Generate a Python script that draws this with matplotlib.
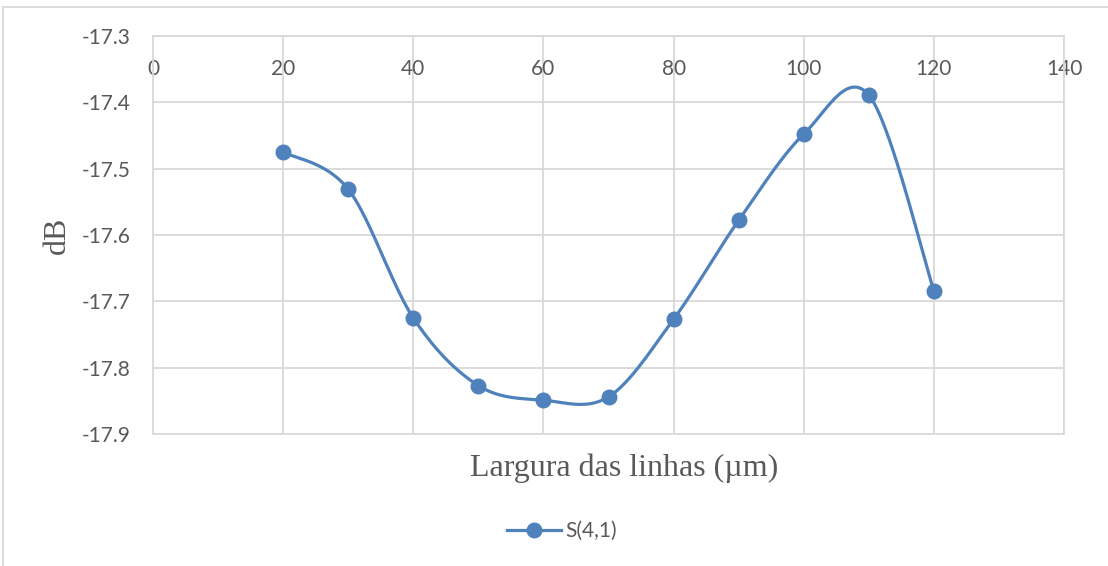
import numpy as np
import matplotlib
matplotlib.use("Agg")
import matplotlib.pyplot as plt
from matplotlib.patches import Rectangle
from matplotlib.lines import Line2D

# Line width (µm) vs. S(4,1) in dB
largura = [20, 30, 40, 50, 60, 70, 80, 90, 100, 110, 120]
s41_db = [-17.475, -17.531, -17.725, -17.827, -17.849, -17.844,
          -17.727, -17.578, -17.448, -17.389, -17.684]

x_ticks = [0, 20, 40, 60, 80, 100, 120, 140]
y_ticks = [-17.3, -17.4, -17.5, -17.6, -17.7, -17.8, -17.9]
serie = "S(4,1)"

azul = "#4F81BD"
cinza_grade = "#D9D9D9"
cinza_texto = "#595959"


def curva_suave(x, y, n=60):
    """Piecewise cubic Bezier through the points (Catmull-Rom tangents)."""
    x = np.asarray(x, float)
    y = np.asarray(y, float)
    px = np.concatenate([[x[0]], x, [x[-1]]])
    py = np.concatenate([[y[0]], y, [y[-1]]])
    t = np.linspace(0, 1, n)[:, None]
    xs, ys = [], []
    for i in range(1, len(px) - 2):
        p0 = np.array([px[i], py[i]])
        p3 = np.array([px[i + 1], py[i + 1]])
        p1 = p0 + (np.array([px[i + 1], py[i + 1]]) - np.array([px[i - 1], py[i - 1]])) / 6
        p2 = p3 - (np.array([px[i + 2], py[i + 2]]) - np.array([px[i], py[i]])) / 6
        b = ((1 - t) ** 3) * p0 + 3 * ((1 - t) ** 2) * t * p1 + 3 * (1 - t) * t ** 2 * p2 + t ** 3 * p3
        xs.append(b[:, 0])
        ys.append(b[:, 1])
    return np.concatenate(xs), np.concatenate(ys)


fig = plt.figure(figsize=(11.08, 5.66), dpi=100)
fig.patch.set_facecolor("white")

# chart frame
fig.patches.append(Rectangle((3.5 / 1108, -0.1), 1.2, 1.1 - 6.5 / 566,
                             transform=fig.transFigure, fill=False,
                             edgecolor=cinza_grade, linewidth=1.3, zorder=0))

ax = fig.add_axes([153 / 1108, 1 - 434 / 566, (1064 - 153) / 1108, (434 - 36) / 566])
ax.set_xlim(0, 140)
ax.set_ylim(-17.9, -17.3)

ax.set_xticks(x_ticks)
ax.set_yticks(y_ticks)
ax.set_yticklabels([f"{v:.1f}" for v in y_ticks])
ax.xaxis.set_ticks_position("top")
ax.tick_params(axis="x", labeltop=True, labelbottom=False, length=0, pad=-31,
               labelsize=15, labelcolor=cinza_texto)
ax.tick_params(axis="y", length=0, pad=16, labelsize=15, labelcolor=cinza_texto)
for lab in ax.get_xticklabels() + ax.get_yticklabels():
    lab.set_fontfamily("Lato")

ax.grid(True, color=cinza_grade, linewidth=1.3)
ax.set_axisbelow(True)
for sp in ax.spines.values():
    sp.set_color(cinza_grade)
    sp.set_linewidth(1.3)

xs, ys = curva_suave(largura, s41_db)
ax.plot(xs, ys, color=azul, linewidth=2.3, solid_capstyle="round", zorder=3)
ax.plot(largura, s41_db, linestyle="none", marker="o", markersize=10.5,
        color=azul, zorder=4)

fig.text(624 / 1108, 1 - 468 / 566, "Largura das linhas (µm)", ha="center", va="center",
         fontsize=23, fontfamily="Liberation Serif", color=cinza_texto)
fig.text(57 / 1108, 1 - 235 / 566, "dB", ha="center", va="center", rotation=90,
         fontsize=23, fontfamily="Liberation Serif", color=cinza_texto)

# legend
h = Line2D([0], [0], color=azul, linewidth=2.3, marker="o", markersize=10.5)
leg = fig.legend([h], [serie], loc="center", bbox_to_anchor=(562 / 1108, 1 - 531 / 566),
                 frameon=False, handlelength=2.6, handletextpad=0.2,
                 prop={"family": "Lato", "size": 15})
for t in leg.get_texts():
    t.set_color(cinza_texto)

fig.savefig("out.png", dpi=100, facecolor="white")
